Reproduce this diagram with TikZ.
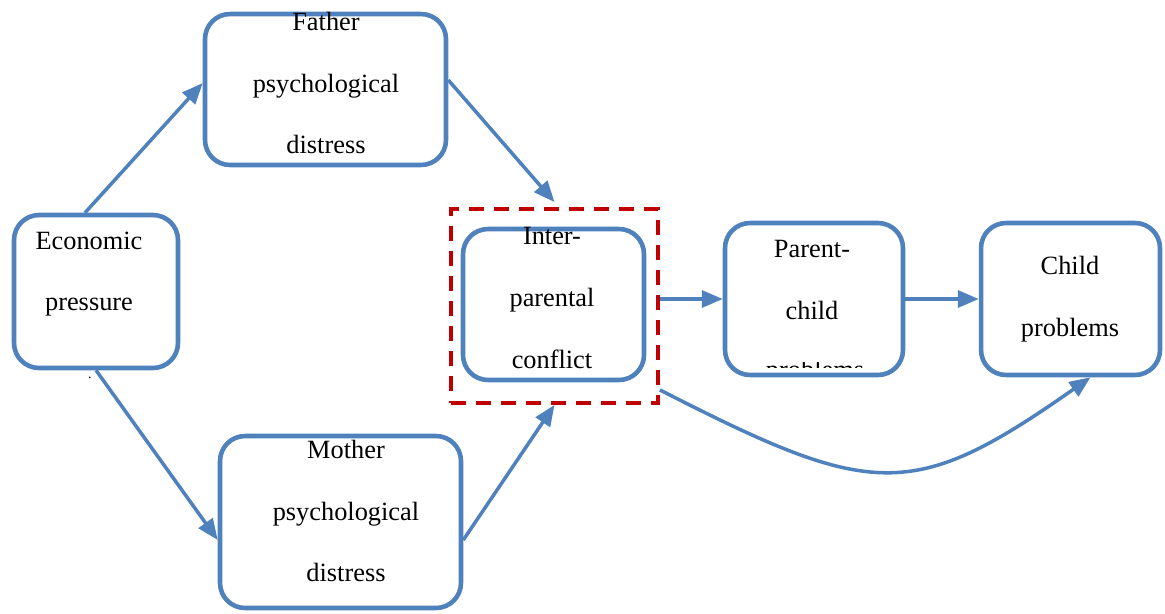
\documentclass[tikz,border=0pt]{standalone}
\usepackage{fontspec}
\setmainfont{Liberation Serif}
\usetikzlibrary{arrows.meta}
\definecolor{boxblue}{HTML}{4F81BD}
\definecolor{markred}{HTML}{C00000}
\tikzset{
  box/.style={draw=boxblue,line width=2.6pt,rounded corners=0.5cm,fill=white,inner sep=0pt},
  txt/.style={align=center,font=\fontsize{15}{35.2}\selectfont},
  link/.style={draw=boxblue,line width=2pt,-{Triangle[length=0.42cm,width=0.34cm]}},
  focusbox/.style={draw=markred,line width=2.2pt,dash pattern=on 0.3cm off 0.2cm,inner sep=0pt}
}
\begin{document}
\begin{tikzpicture}[x=0.02cm,y=-0.02cm]
\useasboundingbox (0,0) rectangle (1165,613);
% boxes
\node[box,minimum width=3.28cm,minimum height=3.06cm] (econ) at (96,291.5) {};
\node[box,minimum width=4.82cm,minimum height=3.02cm] (father) at (325.5,89.5) {};
\node[box,minimum width=4.82cm,minimum height=3.44cm] (mother) at (340.5,522) {};
\node[focusbox,minimum width=4.14cm,minimum height=3.88cm] (focus) at (554.5,306) {};
\node[box,minimum width=3.62cm,minimum height=3.02cm] (conflict) at (553.5,304.5) {};
\node[box,minimum width=3.56cm,minimum height=3.04cm] (parchild) at (814,299) {};
\node[box,minimum width=3.58cm,minimum height=3.04cm] (child) at (1070.5,299) {};
% texts
\node[txt] (econ-t) at (89,274) {Economic\\pressure};
\node[txt] (father-t) at (326,83) {Father\\psychological\\distress};
\node[txt] (mother-t) at (346,511) {Mother\\psychological\\distress};
\node[txt] (conflict-t) at (552,298) {Inter-\\parental\\conflict};
\node[txt] (parchild-t) at (812,280) {Parent-\\child};
\begin{scope}
  \clip (726,362.5) rectangle (902,367);
  \node[txt,anchor=base] (parchild-c) at (815,378) {problems};
\end{scope}
\node[txt] (child-t) at (1070,299) {Child\\problems};
\node[font=\fontsize{8}{8}\selectfont,inner sep=0pt] (dot) at (90,378) {.};
% arrows
\draw[link] ([xshift=-0.22cm]econ.north) -- ([yshift=0.13cm]father.west);
\draw[link] ([yshift=0.19cm]father.east) -- ([yshift=0.1cm]focus.north);
\draw[link] (econ.south) -- ([yshift=-0.36cm]mother.west);
\draw[link] ([yshift=-0.36cm]mother.east) -- (focus.south);
\draw[link] (parchild.west -| focus.east) -- (parchild.west);
\draw[link] (parchild.east) -- (child.west);
\draw[link] ([yshift=0.3cm]focus.south east) .. controls +(213,109) and +(-178,125) .. ([xshift=0.4cm]child.south);
\end{tikzpicture}
\end{document}
